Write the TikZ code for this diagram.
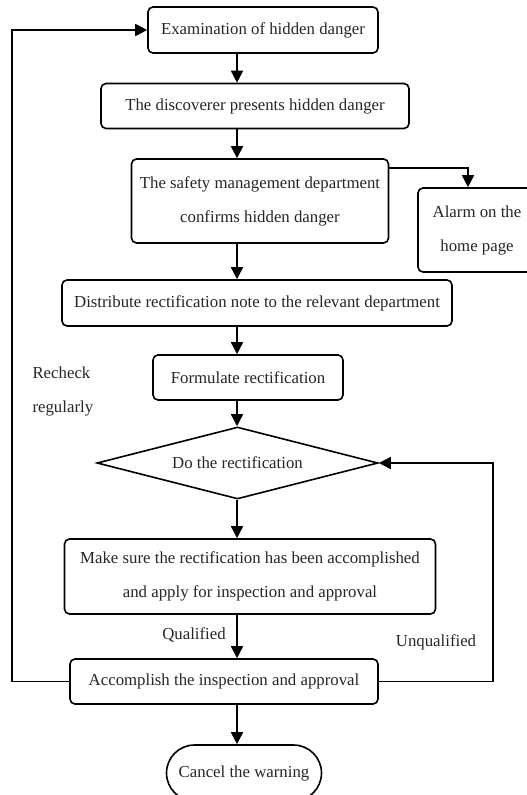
\documentclass[tikz,border=0pt]{standalone}
\usepackage{fontspec}
\setmainfont{Liberation Serif}
\usepackage{tikz}
\usetikzlibrary{arrows.meta, shapes.geometric, shapes.misc}
\tikzset{
    process/.style={rectangle, draw=black, line width=1.6pt, rounded corners=5pt, fill=white, align=center, inner sep=0pt, text=black!85},
    decision/.style={diamond, draw=black, line width=1.6pt, fill=white, aspect=3.9, inner sep=0pt, align=center, text=black!85},
    term/.style={rounded rectangle, draw=black, line width=1.6pt, fill=white, inner sep=0pt, align=center, text=black!85},
    arrow/.style={-{Triangle[length=12pt, width=12pt]}, line width=1.6pt},
    label/.style={align=left, text=black!85}
}

\begin{document}
\begin{tikzpicture}[x=1pt, y=-1pt, font=\fontsize{16.8}{34}\selectfont]
    \useasboundingbox (0,0) rectangle (527,795);

    % Main column
    \node[process, minimum width=230pt, minimum height=46pt] (exam) at (263,30) {Examination of hidden danger};
    \node[process, minimum width=308pt, minimum height=45pt] (disc) at (255,106) {The discoverer presents hidden danger};
    \node[process, minimum width=257pt, minimum height=84pt] (safety) at (260,201) {The safety management department\\confirms hidden danger};
    \node[process, minimum width=118pt, minimum height=84pt] (alarm) at (477,230) {Alarm on the\\home page};
    \node[process, minimum width=390pt, minimum height=46pt] (distr) at (257,303) {Distribute rectification note to the relevant department};
    \node[process, minimum width=190pt, minimum height=45pt] (form) at (248,377.5) {Formulate rectification};
    \node[decision, minimum width=281pt, minimum height=72pt] (doit) at (237.5,463) {Do the rectification};
    \node[process, minimum width=371pt, minimum height=75pt] (make) at (250,576.5) {Make sure the rectification has been accomplished\\and apply for inspection and approval};
    \node[process, minimum width=308pt, minimum height=45pt] (accomp) at (224,681.5) {Accomplish the inspection and approval};
    \node[term, minimum width=155pt, minimum height=56pt] (cancel) at (244,773) {Cancel the warning};

    % Labels
    \node[label, anchor=west] (recheck) at (29,391) {Recheck\\regularly};
    \node[label] (qual) at (194,635) {Qualified};
    \node[label] (unqual) at (436,642) {Unqualified};

    % Arrows down the spine
    \coordinate (spine) at (237,0);
    \draw[arrow] (exam.south -| spine) -- (disc.north -| spine);
    \draw[arrow] (disc.south -| spine) -- (safety.north -| spine);
    \draw[arrow] (safety.south -| spine) -- (distr.north -| spine);
    \draw[arrow] (distr.south -| spine) -- (form.north -| spine);
    \draw[arrow] (form.south -| spine) -- (doit.north -| spine);
    \draw[arrow] (doit.south -| spine) -- (make.north -| spine);
    \draw[arrow] (make.south -| spine) -- (accomp.north -| spine);
    \draw[arrow] (accomp.south -| spine) -- (cancel.north -| spine);

    % Side branches
    \draw[arrow] ([yshift=-10pt]safety.north east) -| ([xshift=-9pt]alarm.north);
    \draw[arrow] (accomp.west) -- ++(-57,0) |- (exam.west);
    \draw[arrow] (accomp.east) -- ++(114,0) |- (doit.east);
\end{tikzpicture}
\end{document}
